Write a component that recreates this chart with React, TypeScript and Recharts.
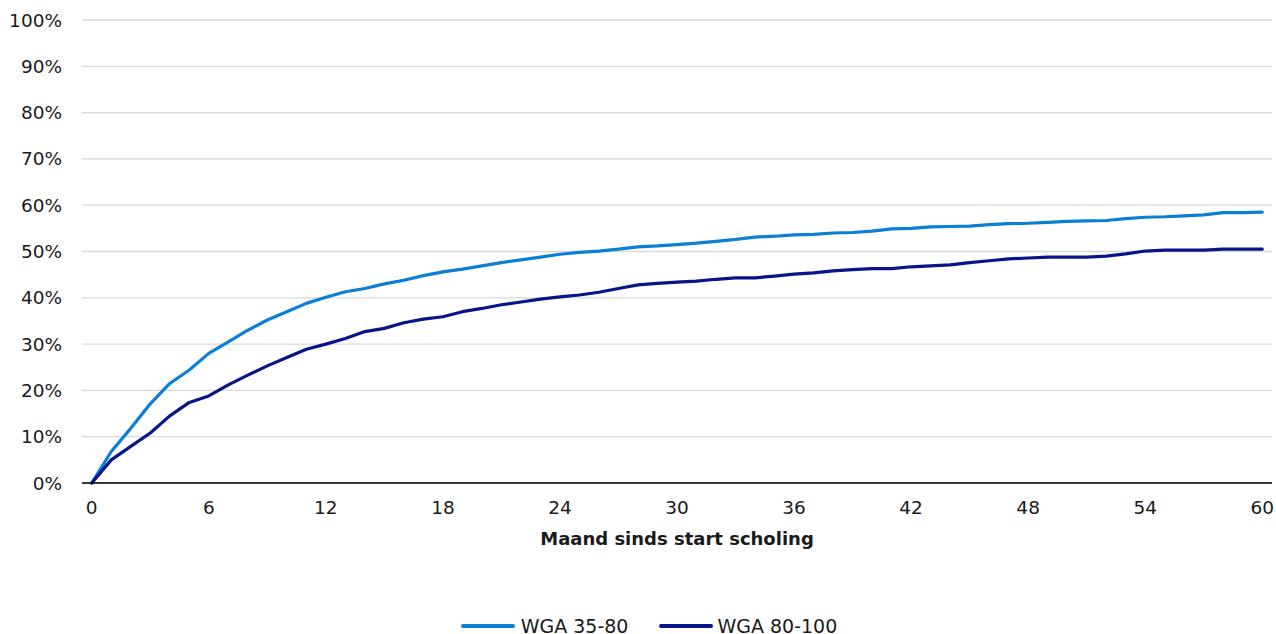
import React from 'react';
import { LineChart, Line, XAxis, YAxis, CartesianGrid, Legend } from 'recharts';

const months: number[] = Array.from({ length: 61 }, (_, i) => i);
const wga3580: number[] = [
  0, 6.8, 11.8, 17.1, 21.5, 24.4, 28.0, 30.5, 33.0, 35.2,
  37.0, 38.8, 40.1, 41.3, 42.0, 43.0, 43.8, 44.8, 45.6, 46.2,
  46.9, 47.6, 48.2, 48.8, 49.4, 49.8, 50.1, 50.5, 51.0, 51.2,
  51.5, 51.8, 52.2, 52.6, 53.1, 53.3, 53.6, 53.7, 54.0, 54.1,
  54.4, 54.9, 55.0, 55.3, 55.4, 55.5, 55.8, 56.0, 56.1, 56.3,
  56.5, 56.6, 56.7, 57.1, 57.4, 57.5, 57.7, 57.9, 58.4, 58.4,
  58.5,
];
const wga80100: number[] = [
  0, 5.0, 7.9, 10.8, 14.5, 17.4, 18.8, 21.2, 23.3, 25.3,
  27.1, 28.9, 30.0, 31.2, 32.7, 33.4, 34.6, 35.4, 35.9, 37.0,
  37.7, 38.5, 39.1, 39.7, 40.2, 40.6, 41.2, 42.0, 42.8, 43.1,
  43.4, 43.6, 44.0, 44.3, 44.3, 44.7, 45.1, 45.4, 45.8, 46.1,
  46.3, 46.3, 46.7, 46.9, 47.1, 47.6, 48.0, 48.4, 48.6, 48.8,
  48.8, 48.8, 49.0, 49.5, 50.1, 50.3, 50.3, 50.3, 50.5, 50.5,
  50.5,
];
const xTicks: number[] = [0, 6, 12, 18, 24, 30, 36, 42, 48, 54, 60];
const yTicks: number[] = [0, 10, 20, 30, 40, 50, 60, 70, 80, 90, 100];
const seriesNames = ['WGA 35-80', 'WGA 80-100'];
const colors = ['#0B7FD5', '#06168A'];

const data = months.map((m, i) => ({ month: m, a: wga3580[i], b: wga80100[i] }));

const FONT = '"DejaVu Sans", Verdana, sans-serif';
const FS = 18.5;

const renderLegend = (props: any) => {
  const { payload } = props;
  return (
    <div style={{ display: 'flex', justifyContent: 'center', alignItems: 'center', height: 20, lineHeight: '19px', paddingLeft: 22, boxSizing: 'border-box', fontFamily: FONT, fontSize: 19, color: '#1a1a1a' }}>
      {(payload || []).map((p: any, i: number) => (
        <div key={i} style={{ display: 'flex', alignItems: 'center', marginLeft: i === 0 ? 0 : 31 }}>
          <div style={{ width: 54, height: 4, background: p.color, borderRadius: 2, marginRight: i === 0 ? 6 : 4 }} />
          <span style={{ lineHeight: '19px' }}>{p.value}</span>
        </div>
      ))}
    </div>
  );
};

export default function App() {
  return (
    <div style={{ position: 'absolute', left: 0, top: 0, width: 1276, height: 634, background: '#fff' }}>
      <LineChart width={1276} height={634} data={data} margin={{ top: 20, right: 4, bottom: 61, left: 0 }}>
        <CartesianGrid horizontal={true} vertical={false} stroke="#D9D9D9" strokeWidth={1.3} />
        <XAxis
          dataKey="month"
          type="number"
          domain={[-0.5, 60.5]}
          ticks={xTicks}
          interval={0}
          height={70}
          tickLine={false}
          tickSize={0}
          tickMargin={18}
          axisLine={{ stroke: '#000', strokeWidth: 1.3 }}
          tick={{ fill: '#1a1a1a', fontSize: FS, fontFamily: FONT }}
          label={{ value: 'Maand sinds start scholing', position: 'insideBottom', offset: 8, fill: '#1a1a1a', fontSize: 18, fontWeight: 'bold', fontFamily: FONT }}
        />
        <YAxis
          type="number"
          domain={[0, 100]}
          ticks={yTicks}
          interval={0}
          width={82}
          axisLine={false}
          tickLine={false}
          tickSize={0}
          tickMargin={20}
          tickFormatter={(v: number) => `${v}%`}
          tick={{ fill: '#1a1a1a', fontSize: FS, fontFamily: FONT }}
        />
        <Legend verticalAlign="bottom" content={renderLegend} wrapperStyle={{ top: 616, left: 0, width: 1276, height: 20 }} />
        <Line type="linear" dataKey="a" name={seriesNames[0]} stroke={colors[0]} strokeWidth={3.2} dot={false} isAnimationActive={false} strokeLinejoin="round" strokeLinecap="round" />
        <Line type="linear" dataKey="b" name={seriesNames[1]} stroke={colors[1]} strokeWidth={3.2} dot={false} isAnimationActive={false} strokeLinejoin="round" strokeLinecap="round" />
      </LineChart>
    </div>
  );
}
